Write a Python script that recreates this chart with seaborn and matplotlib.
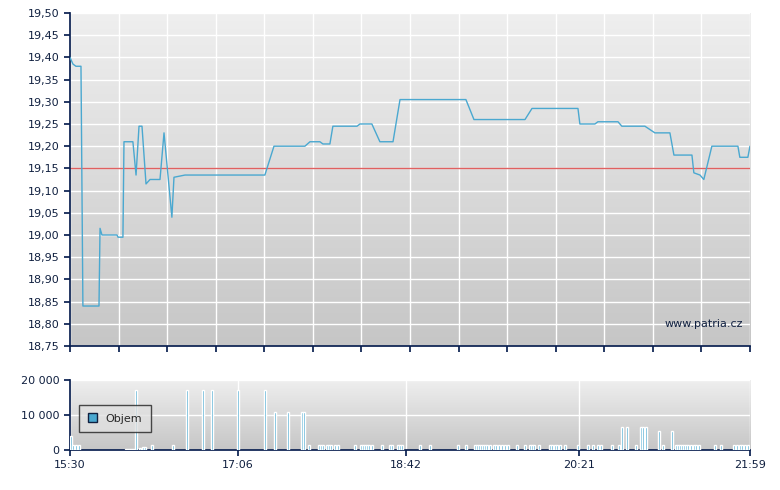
import matplotlib
matplotlib.use("Agg")
import matplotlib.pyplot as plt
import seaborn as sns
import numpy as np
from matplotlib.patches import Patch

# minutes since 15:30 and price
price_t = [0, 1.7, 3.4, 6.3, 7.4, 16.6, 17.2, 18.3, 26.9, 27.5, 30.3, 30.9, 36.0, 37.8, 39.5,
           41.2, 43.5, 45.8, 51.5, 53.8, 58.3, 59.5, 65.8, 111.5, 116.7, 134.4, 137.3, 143.0,
           144.7, 148.7, 150.4, 164.2, 165.9, 172.7, 177.3, 184.8, 188.8, 226.5, 231.1, 260.3,
           264.3, 290.6, 291.7, 300.3, 302.0, 313.5, 315.7, 328.9, 334.6, 343.2, 345.5, 355.8,
           356.9, 360.4, 362.6, 367.2, 382.1, 383.2, 387.8, 389]
price_v = [19.40, 19.385, 19.38, 19.38, 18.84, 18.84, 19.015, 19.00, 19.00, 18.995, 18.995, 19.21,
           19.21, 19.135, 19.245, 19.245, 19.115, 19.125, 19.125, 19.23, 19.04, 19.13, 19.135,
           19.135, 19.20, 19.20, 19.21, 19.21, 19.205, 19.205, 19.245, 19.245, 19.25, 19.25,
           19.21, 19.21, 19.305, 19.305, 19.26, 19.26, 19.285, 19.285, 19.25, 19.25, 19.255,
           19.255, 19.245, 19.245, 19.23, 19.23, 19.18, 19.18, 19.14, 19.135, 19.125, 19.20,
           19.20, 19.175, 19.175, 19.20]
ref_price = 19.15

vol_t = [0.6, 1.7, 3.4, 5.1, 32.0, 33.2, 34.3, 35.5, 36.6, 37.8, 40.0, 41.8, 42.9, 46.9, 58.9,
         66.9, 76.1, 81.2, 96.1, 111.5, 117.3, 124.7, 132.7, 133.8, 136.7, 142.4, 143.6, 144.7,
         147.0, 148.1, 149.3, 151.6, 153.3, 163.0, 166.5, 167.6, 168.7, 169.9, 171.0, 172.7,
         178.5, 183.0, 184.2, 187.6, 188.8, 189.9, 200.2, 205.9, 221.9, 226.5, 231.7, 232.8,
         233.9, 235.1, 236.2, 237.4, 238.5, 240.2, 242.5, 243.7, 245.4, 247.1, 248.8, 250.5,
         255.7, 260.3, 263.1, 264.3, 265.4, 268.3, 274.6, 275.7, 277.4, 278.6, 280.3, 283.1,
         290.6, 296.3, 299.2, 302.0, 303.7, 310.0, 314.0, 315.7, 318.6, 323.8, 326.6, 327.8,
         329.5, 336.9, 339.2, 344.3, 346.6, 347.8, 348.9, 350.1, 351.2, 352.4, 353.5, 355.2,
         356.9, 358.1, 359.8, 368.9, 372.4, 379.8, 381.5, 383.2, 384.4, 386.1, 387.8]
vol_v = [4000, 1500, 1500, 1500, 300, 300, 300, 300, 300, 17000, 500, 800, 800, 1500, 1500,
         17000, 17000, 17000, 17000, 17000, 11000, 11000, 11000, 11000] + [1500] * 59 + \
        [6500, 6500, 1500, 6500, 6500, 6500, 5500, 1500, 5500] + [1500] * 19

x_ticks = [0, 96, 192, 291, 389]
x_labels = ["15:30", "17:06", "18:42", "20:21", "21:59"]

sns.set_theme(style="white")
plt.rcParams['font.family'] = ['DejaVu Sans']
navy = "#0a2050"
line_c = "#4aa8d0"

fig = plt.figure(figsize=(7.8, 4.9), dpi=100)
ax1 = fig.add_axes([0.0897, 0.2939, 0.8718, 0.6796])
ax2 = fig.add_axes([0.0897, 0.0816, 0.8718, 0.1429])

grad = np.linspace(0, 1, 256).reshape(-1, 1)
for ax, (y0, y1) in [(ax1, (18.75, 19.5)), (ax2, (0, 20000))]:
    ax.imshow(grad, extent=[0, 389, y0, y1], aspect="auto", origin="upper",
              cmap=matplotlib.colors.LinearSegmentedColormap.from_list("g", ["#efefef", "#c6c6c6"]),
              zorder=0)
    ax.set_xlim(0, 389)
    ax.set_ylim(y0, y1)
    for s in ["top", "right"]:
        ax.spines[s].set_visible(False)
    for s in ["left", "bottom"]:
        ax.spines[s].set_color(navy)
    ax.tick_params(axis="both", direction="out", length=4, color=navy, labelsize=8,
                   labelcolor="#102040", left=True, bottom=True)

# top panel
yt = np.round(np.arange(18.75, 19.501, 0.05), 2)
ax1.set_yticks(yt)
ax1.set_yticklabels([f"{v:.2f}".replace(".", ",") for v in yt])
ax1.set_xticks(np.arange(0, 15) * 389 / 14)
ax1.set_xticklabels([])
ax1.grid(True, color="white", linewidth=1)
for l in ax1.get_xgridlines() + ax1.get_ygridlines():
    l.set_zorder(1)
ax1.axhline(ref_price, color="#e06060", linewidth=1, zorder=2)
sns.lineplot(x=price_t, y=price_v, ax=ax1, color=line_c, linewidth=1, zorder=3)
ax1.text(0.99, 0.05, "www.patria.cz", transform=ax1.transAxes, ha="right", va="bottom",
         fontsize=8, color="#102040")

# volume panel
ax2.bar(vol_t, vol_v, width=1.0, color=line_c, zorder=3)
ax2.set_yticks([0, 10000, 20000])
ax2.set_yticklabels(["0", "10 000", "20 000"])
ax2.set_xticks(x_ticks)
ax2.set_xticklabels(x_labels)
ax2.grid(True, color="white", linewidth=1)
for l in ax2.get_xgridlines() + ax2.get_ygridlines():
    l.set_zorder(1)
leg = ax2.legend(handles=[Patch(facecolor=line_c, edgecolor="#102040", label="Objem")],
                 loc="center left", bbox_to_anchor=(0.005, 0.45), fontsize=8, frameon=True,
                 fancybox=False, handlelength=0.8, handleheight=0.8, borderpad=0.8)
leg.get_frame().set_edgecolor("#202020")
leg.get_frame().set_facecolor("#e0e0e0")

fig.savefig("out.png", dpi=100)
